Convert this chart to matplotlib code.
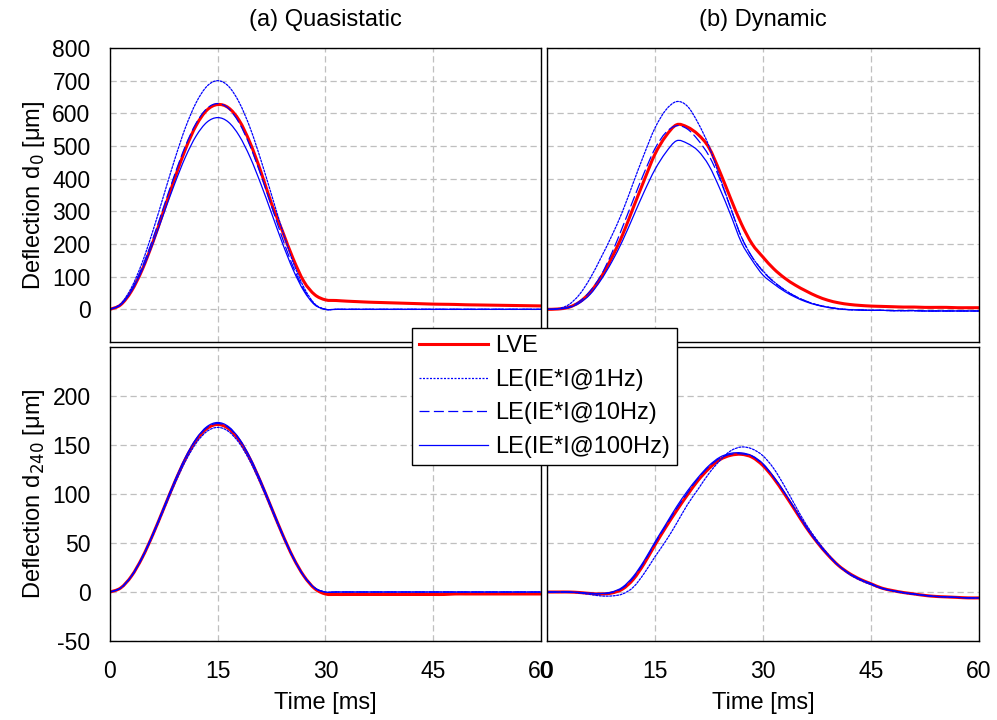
import matplotlib
matplotlib.use('Agg')
import matplotlib.pyplot as plt
import numpy as np
from matplotlib.path import Path
from matplotlib.patches import PathPatch
from matplotlib.lines import Line2D

plt.rcParams['font.family'] = ['Liberation Sans', 'DejaVu Sans']
plt.rcParams['axes.unicode_minus'] = False

# time axis [ms]
t = [0, 1.5, 3, 4.5, 6, 7.5, 9, 10.5, 12, 13.5, 15, 16.5, 18, 19.5, 21, 22.5, 24, 25.5, 27, 28.5,
     30, 31.5, 33, 34.5, 36, 37.5, 39, 40.5, 42, 43.5, 45, 46.5, 48, 49.5, 51, 52.5, 54, 55.5, 57, 58.5, 60]

# (a) quasistatic, d0 [um]
q0_lve = [0, 14, 56, 122, 207, 303, 400, 490, 563, 610, 627, 617, 578, 510, 422, 323, 240, 155, 85, 45,
          29, 27, 25, 23.5, 22, 21, 20, 19, 18, 17, 16, 15.5, 15, 14, 13.5, 13, 12.5, 12, 11.5, 11, 10.5]
q0_1hz = [0, 17, 67, 144, 242, 350, 458, 556, 633, 683, 700, 683, 633, 556, 458, 350, 242, 144, 67, 17,
          0, 0, 0, 0, 0, 0, 0, 0, 0, 0, 0, 0, 0, 0, 0, 0, 0, 0, 0, 0, 0]
q0_10hz = [0, 15, 60, 130, 218, 315, 412, 500, 570, 615, 630, 615, 570, 500, 412, 315, 218, 130, 60, 15,
           0, 0, 0, 0, 0, 0, 0, 0, 0, 0, 0, 0, 0, 0, 0, 0, 0, 0, 0, 0, 0]
q0_100hz = [0, 14, 56, 121, 203, 294, 384, 466, 531, 573, 587, 573, 531, 466, 384, 294, 203, 121, 56, 14,
            0, 0, 0, 0, 0, 0, 0, 0, 0, 0, 0, 0, 0, 0, 0, 0, 0, 0, 0, 0, 0]

# (b) dynamic, d0 [um]
d0_lve = [0, 1, 6, 22, 52, 98, 158, 228, 312, 395, 475, 530, 565, 558, 535, 495, 422, 340, 262, 200,
          160, 124, 96, 74, 56, 40, 28, 20, 15, 12, 10, 9, 8, 7, 7, 6, 6, 6, 5, 5, 5]
d0_1hz = [0, 2, 14, 45, 95, 158, 225, 300, 388, 475, 555, 610, 636, 622, 570, 500, 405, 312, 222, 160,
          118, 85, 60, 40, 25, 14, 7, 2, -1, -2, -3, -3, -4, -4, -4, -5, -5, -5, -5, -5, -5]
d0_10hz = [0, 1, 7, 24, 56, 104, 172, 252, 336, 418, 492, 541, 562, 552, 518, 470, 400, 310, 222, 160,
           116, 84, 59, 40, 25, 14, 7, 2, -1, -2, -3, -3, -4, -4, -4, -5, -5, -5, -5, -5, -5]
d0_100hz = [0, 1, 5, 19, 46, 90, 145, 210, 285, 360, 428, 480, 516, 508, 485, 440, 370, 290, 205, 150,
            105, 78, 55, 37, 23, 13, 6, 1, -1, -2, -3, -3, -4, -4, -4, -5, -5, -5, -5, -5, -5]

# (a) quasistatic, d240 [um]
q240_lve = [0, 4.2, 16.3, 35.2, 59.1, 85.5, 111.9, 135.8, 154.7, 166.8, 171, 166.8, 154.7, 135.8, 111.9,
            85.5, 59.1, 35.2, 16.3, 3.5, -2, -2.5, -2.5, -2.5, -2.5, -2.5, -2.5, -2.5, -2.5, -2.5, -2.5,
            -2.5, -2, -2, -2, -2, -2, -2, -2, -2, -2]
q240_1hz = [0, 4.1, 16.0, 34.6, 58.0, 84, 110, 133.4, 152, 163.9, 168, 163.9, 152, 133.4, 110, 84, 58.0,
            34.6, 16.0, 4.1, 0, 0, 0, 0, 0, 0, 0, 0, 0, 0, 0, 0, 0, 0, 0, 0, 0, 0, 0, 0, 0]
q240_10hz = [0, 4.2, 16.4, 35.4, 59.4, 86, 112.6, 136.5, 155.6, 167.8, 172, 167.8, 155.6, 136.5, 112.6, 86,
             59.4, 35.4, 16.4, 4.2, 0, 0, 0, 0, 0, 0, 0, 0, 0, 0, 0, 0, 0, 0, 0, 0, 0, 0, 0, 0, 0]
q240_100hz = [0, 4.2, 16.5, 35.7, 59.8, 86.5, 113.2, 137.3, 156.5, 168.8, 173, 168.8, 156.5, 137.3, 113.2,
              86.5, 59.8, 35.7, 16.5, 4.2, 0, 0, 0, 0, 0, 0, 0, 0, 0, 0, 0, 0, 0, 0, 0, 0, 0, 0, 0, 0, 0]

# (b) dynamic, d240 [um]
d240_lve = [0, 0, 0, -0.5, -1.5, -2, -1, 3, 13, 29, 48, 66, 83, 99, 114, 126, 135, 139.5, 140.5, 137.5,
            129, 116, 100, 83, 66, 51, 38, 27, 19, 13, 8.5, 4, 1.5, -0.5, -2, -3.5, -4.5, -5, -5.5, -6, -6]
d240_1hz = [0, 0, 0, -1, -2.5, -4, -4, -2, 5, 19, 36, 52, 70, 89, 105, 121, 134, 144, 148, 146,
            139, 126, 108, 88, 69, 53, 39, 27, 18, 12, 7.5, 3.5, 1, -1, -2.5, -3.5, -4.5, -5, -5.5, -6, -6]
d240_10hz = [0, 0, 0, -0.5, -1.5, -2, -0.5, 4, 14.5, 30.5, 49.5, 67.5, 85, 101, 116, 128, 136.5, 140.5, 141, 138.5,
             130, 117, 101, 84, 66, 51, 38, 27, 19, 13, 8.5, 4, 1.5, -0.5, -2, -3.5, -4.5, -5, -5.5, -6, -6]
d240_100hz = [0, 0, 0, -0.5, -1.2, -1.5, 0, 5, 16, 32, 51, 69, 87, 103, 117, 129, 137.5, 141.5, 142, 139,
              131, 117.5, 101.5, 84, 66.5, 51, 38, 27, 19, 13, 8.5, 4, 1.5, -0.5, -2, -3.5, -4.5, -5, -5.5, -6, -6]

labels = ['LVE', 'LE(IE*I@1Hz)', 'LE(IE*I@10Hz)', 'LE(IE*I@100Hz)']
FS = 16.5

# line styles: LVE, 1Hz, 10Hz, 100Hz
styles = [dict(color='#FF0000', lw=2.2, ls='-'),
          dict(color='#0000FF', lw=0.9, ls=(0, (1.6, 1.2))),
          dict(color='#0000FF', lw=0.9, ls=(0, (8, 3.5))),
          dict(color='#0000FF', lw=0.9, ls='-')]


def smooth_line(ax, x, y, st):
    # excel-like smoothed line: bezier segments through the data points
    xs = np.asarray(x, float)
    ys = np.asarray(y, float)
    n = len(xs)
    verts = [(xs[0], ys[0])]
    codes = [Path.MOVETO]
    for i in range(n - 1):
        i0 = max(i - 1, 0)
        i3 = min(i + 2, n - 1)
        c1 = (xs[i] + (xs[i + 1] - xs[i0]) / 6, ys[i] + (ys[i + 1] - ys[i0]) / 6)
        c2 = (xs[i + 1] - (xs[i3] - xs[i]) / 6, ys[i + 1] - (ys[i3] - ys[i]) / 6)
        verts += [c1, c2, (xs[i + 1], ys[i + 1])]
        codes += [Path.CURVE4] * 3
    ax.add_patch(PathPatch(Path(verts, codes), fill=False, edgecolor=st['color'],
                           linewidth=st['lw'], linestyle=st['ls'], capstyle='round'))


fig = plt.figure(figsize=(9.97, 7.2), dpi=100)
ax_tl = fig.add_axes([0.1103, 0.525, 0.4323, 0.4083])
ax_tr = fig.add_axes([0.5486, 0.525, 0.4333, 0.4083])
ax_bl = fig.add_axes([0.1103, 0.1097, 0.4323, 0.4083])
ax_br = fig.add_axes([0.5486, 0.1097, 0.4333, 0.4083])


def draw(ax, lve, le1, le10, le100):
    for ys, st in zip([lve, le1, le10, le100], styles):
        smooth_line(ax, t, ys, st)


draw(ax_tl, q0_lve, q0_1hz, q0_10hz, q0_100hz)
draw(ax_tr, d0_lve, d0_1hz, d0_10hz, d0_100hz)
draw(ax_bl, q240_lve, q240_1hz, q240_10hz, q240_100hz)
draw(ax_br, d240_lve, d240_1hz, d240_10hz, d240_100hz)

for ax in [ax_tl, ax_tr]:
    ax.set_ylim(-100, 800)
    ax.set_yticks(range(0, 801, 100))
for ax in [ax_bl, ax_br]:
    ax.set_ylim(-50, 250)
    ax.set_yticks(range(-50, 201, 50))

for ax in [ax_tl, ax_tr, ax_bl, ax_br]:
    ax.set_xlim(0, 60)
    ax.set_xticks([0, 15, 30, 45, 60])
    ax.grid(True, color='#BFBFBF', ls=(0, (5, 3)), lw=0.9)
    ax.set_axisbelow(True)
    ax.tick_params(length=0, labelsize=FS, pad=14)
    for s in ax.spines.values():
        s.set_color('black')
        s.set_linewidth(1)

for ax in [ax_tl, ax_tr]:
    ax.tick_params(labelbottom=False)
for ax in [ax_tr, ax_br]:
    ax.tick_params(labelleft=False)

ax_tl.set_title('(a) Quasistatic', fontsize=17, pad=16)
ax_tr.set_title('(b) Dynamic', fontsize=17, pad=16)
ax_tl.set_ylabel('Deflection d$_0$ [μm]', fontsize=17)
ax_bl.set_ylabel('Deflection d$_{240}$ [μm]', fontsize=17)
ax_bl.set_xlabel('Time [ms]', fontsize=17, labelpad=6)
ax_br.set_xlabel('Time [ms]', fontsize=17, labelpad=6)

handles = [Line2D([], [], color=st['color'], lw=st['lw'], ls=st['ls']) for st in styles]
leg = fig.legend(handles, labels, loc='upper left', bbox_to_anchor=(0.4132, 0.5444),
                 fontsize=17, frameon=True, fancybox=False, edgecolor='black', framealpha=1,
                 borderaxespad=0, borderpad=0.31, labelspacing=0.49, handlelength=2.9,
                 handletextpad=0.3)
leg.get_frame().set_linewidth(1)

fig.savefig('out.png', dpi=100)
